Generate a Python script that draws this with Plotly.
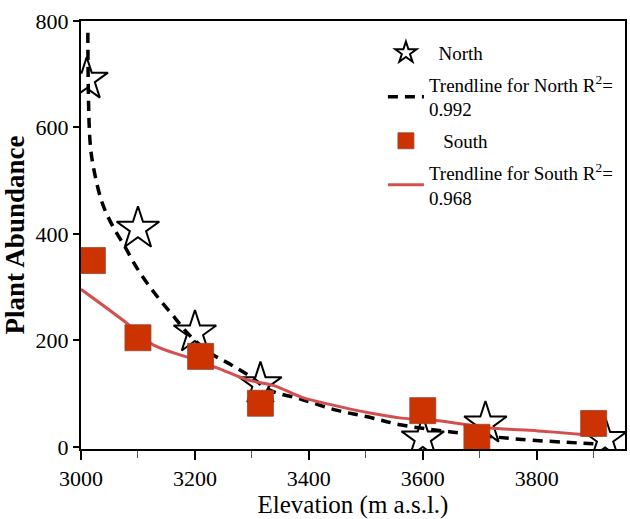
import plotly.graph_objects as go

# ---- data ----
north_x = [3010, 3100, 3200, 3315, 3600, 3710, 3920]
north_y = [690, 410, 215, 118, 16, 44, 15]

south_x = [3020, 3100, 3210, 3315, 3600, 3695, 3900]
south_y = [350, 205, 170, 82, 68, 18, 44]

north_trend_x = [3012, 3016, 3023, 3037, 3054, 3077, 3100, 3129, 3159, 3191, 3229,
                 3264, 3299, 3330, 3388, 3448, 3505, 3563, 3650, 3762, 3878, 3910]
north_trend_y = [778, 572, 519, 459, 418, 376, 333, 289, 250, 209, 175,
                 154, 131, 107, 89, 69, 56, 41, 28, 15, 7, 5]

south_trend_x = [3000, 3082, 3126, 3191, 3240, 3292, 3339, 3388, 3448, 3505,
                 3563, 3628, 3715, 3802, 3885, 3905]
south_trend_y = [296, 231, 192, 167, 148, 126, 115, 93, 77, 64,
                 54, 49, 36, 30, 23, 21]

x_ticks = [3000, 3200, 3400, 3600, 3800]
y_ticks = [0, 200, 400, 600, 800]

north_label = "\u00a0\u00a0North"
north_trend_label = "Trendline for North R<sup>2</sup>=<br>0.992"
south_label = "\u00a0\u00a0\u00a0South"
south_trend_label = "Trendline for South R<sup>2</sup>=<br>0.968"

SERIF = "Liberation Serif, Times New Roman, serif"

fig = go.Figure()

fig.add_trace(go.Scatter(
    x=north_x, y=north_y, mode="markers", name=north_label, legendrank=1,
    legendgroup="north",
    marker=dict(symbol="star", size=32, color="white",
                line=dict(color="black", width=2)),
))
fig.add_trace(go.Scatter(
    x=north_trend_x, y=north_trend_y, mode="lines", name=north_trend_label,
    legendrank=2, legendgroup="north_trend",
    line=dict(color="black", width=3.5, dash="10px,7px", shape="spline"),
))
fig.add_trace(go.Scatter(
    x=south_trend_x, y=south_trend_y, mode="lines", name=south_trend_label,
    legendrank=4, legendgroup="south_trend",
    line=dict(color="#D45050", width=3, shape="spline"),
))
fig.add_trace(go.Scatter(
    x=south_x, y=south_y, mode="markers", name=south_label, legendrank=3,
    legendgroup="south",
    marker=dict(symbol="square", size=26, color="#CC3300",
                line=dict(color="rgba(150,70,50,0.8)", width=1)),
))

fig.update_layout(
    width=630, height=519,
    margin=dict(l=81, r=5, t=21, b=70, autoexpand=False),
    paper_bgcolor="white", plot_bgcolor="white",
    font=dict(family=SERIF, color="black", size=19),
    showlegend=True,
    legend=dict(x=0.555, y=0.97, xanchor="left", yanchor="top",
                bgcolor="rgba(0,0,0,0)", font=dict(size=19, family=SERIF),
                tracegroupgap=4, itemwidth=36),
    xaxis=dict(
        range=[3000, 3955], tickvals=x_ticks, ticktext=[str(v) for v in x_ticks],
        showgrid=False, zeroline=False, showline=True, linecolor="black", linewidth=2,
        mirror=True, ticks="outside", ticklen=9, tickwidth=2, tickcolor="black",
        tickfont=dict(size=22, family=SERIF),
        minor=dict(dtick=100, tick0=3000, ticks="outside", ticklen=7, tickwidth=1,
                   tickcolor="#555555", showgrid=False),
        title=dict(text="Elevation (m a.s.l.)", font=dict(size=25, family=SERIF),
                   standoff=6),
    ),
    yaxis=dict(
        range=[-4, 800], tickvals=y_ticks, ticktext=[str(v) for v in y_ticks],
        showgrid=False, zeroline=False, showline=True, linecolor="black", linewidth=2,
        mirror=True, ticks="outside", ticklen=6, tickwidth=2, tickcolor="black",
        tickfont=dict(size=22, family=SERIF),
        title=dict(text="<b>Plant Abundance</b>", font=dict(size=27, family=SERIF),
                   standoff=4),
    ),
)

fig.write_html("out.html")
